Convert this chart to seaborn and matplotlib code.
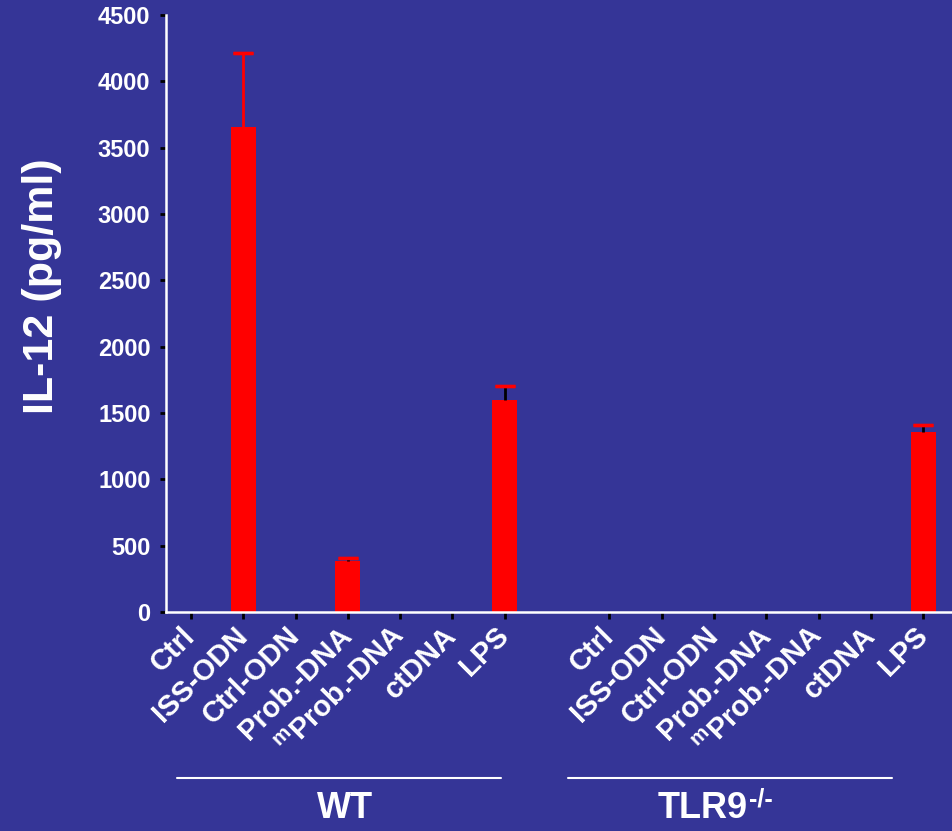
import pandas as pd
import matplotlib
matplotlib.use("Agg")
import matplotlib.pyplot as plt
from matplotlib.lines import Line2D
import seaborn as sns

BG = "#353597"

# data
conditions = ["Ctrl", "ISS-ODN", "Ctrl-ODN", "Prob.-DNA", "mProb.-DNA", "ctDNA", "LPS"]
tick_labels = ["Ctrl", "ISS-ODN", "Ctrl-ODN", "Prob.-DNA",
               r"$^{\mathbf{m}}$Prob.-DNA", "ctDNA", "LPS"]
wt_values = [0, 3655, 0, 385, 0, 0, 1600]
wt_errors = [0, 555, 0, 25, 0, 0, 105]
tlr9_values = [0, 0, 0, 0, 0, 0, 1355]
tlr9_errors = [0, 0, 0, 0, 0, 0, 55]
groups = ["WT", "TLR9"]
y_ticks = [0, 500, 1000, 1500, 2000, 2500, 3000, 3500, 4000, 4500]

sns.set_style("ticks")
plt.rcParams["font.family"] = ["Liberation Sans", "DejaVu Sans"]
plt.rcParams["font.weight"] = "bold"
plt.rcParams["mathtext.fontset"] = "custom"
plt.rcParams["mathtext.rm"] = "Liberation Sans:bold"
plt.rcParams["mathtext.bf"] = "Liberation Sans:bold"

rows = []
for g, vals, errs in [("WT", wt_values, wt_errors), ("TLR9", tlr9_values, tlr9_errors)]:
    for c, v, e in zip(conditions, vals, errs):
        rows.append({"key": f"{g}:{c}", "group": g, "condition": c, "il12": v, "err": e})
df = pd.DataFrame(rows)

# one empty slot between the two groups
order = [f"WT:{c}" for c in conditions] + [" "] + [f"TLR9:{c}" for c in conditions]

fig = plt.figure(figsize=(9.53, 8.31), dpi=100, facecolor=BG)
ax = fig.add_axes([0.174, 0.2635, 0.826, 0.7185])
ax.set_facecolor(BG)

sns.barplot(data=df, x="key", y="il12", order=order, color="red",
            saturation=1, width=0.48, errorbar=None, linewidth=0, ax=ax)

for _, r in df.iterrows():
    if r["err"] > 0:
        xi = order.index(r["key"])
        line_col = "red" if r["condition"] == "ISS-ODN" else "black"
        ax.errorbar(xi, r["il12"], yerr=[[0], [r["err"]]], fmt="none",
                    ecolor=line_col, elinewidth=2, capsize=0, zorder=3)
        ax.errorbar(xi, r["il12"] + r["err"], yerr=0, fmt="none",
                    ecolor="red", capsize=7.5, capthick=2.4, elinewidth=0, zorder=4)

ax.set_ylim(0, 4500)
ax.set_xlim(-0.48, 14.57)
ax.set_yticks(y_ticks)
ax.set_yticklabels([str(t) for t in y_ticks], color="white", fontsize=17, fontweight="bold")

xt = [order.index(f"{g}:{c}") for g in groups for c in conditions]
ax.set_xticks(xt)
ax.set_xticklabels(tick_labels * 2, rotation=45, ha="right", va="center",
                   rotation_mode="anchor", color="white", fontsize=21, fontweight="bold")

ax.tick_params(axis="both", color="black", width=2, length=4, direction="out")
ax.tick_params(axis="x", length=5, pad=9)
ax.tick_params(axis="y", pad=7)

for s in ["top", "right"]:
    ax.spines[s].set_visible(False)
for s in ["left", "bottom"]:
    ax.spines[s].set_color("white")
    ax.spines[s].set_linewidth(1.8)

ax.set_xlabel("")
ax.set_ylabel("IL-12 (pg/ml)", color="white", fontsize=31, fontweight="bold")
ax.yaxis.set_label_coords(-0.132, 0.545)

# group brackets under the tick labels
line_y = 1 - 778 / 831
text_y = 1 - 809 / 831
for x0, x1 in [(177, 501), (568, 892)]:
    fig.add_artist(Line2D([x0 / 953, x1 / 953], [line_y, line_y],
                          color="white", lw=1.5, transform=fig.transFigure))

fig.text(345 / 953, text_y, "WT", color="white", fontsize=26,
         fontweight="bold", ha="center", va="center")
tlr = fig.text(703 / 953, text_y, "TLR9", color="white", fontsize=26,
               fontweight="bold", ha="center", va="center")
ax.annotate("-/-", xy=(1, 1), xycoords=tlr, xytext=(0.5, 3), textcoords="offset points",
            ha="left", va="top", color="white", fontsize=18, fontweight="bold",
            annotation_clip=False)

fig.savefig("out.png", dpi=100, facecolor=BG)
